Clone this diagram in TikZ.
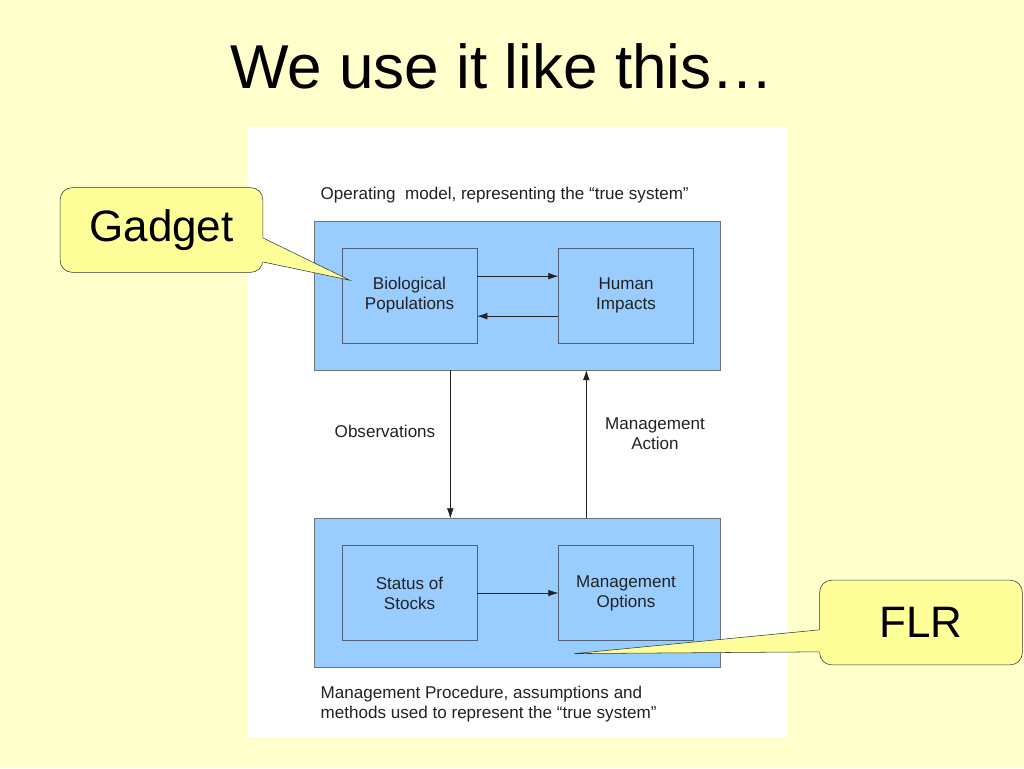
\documentclass[tikz,border=0pt]{standalone}
\usepackage{fontspec}
\setmainfont{Liberation Sans}
\usetikzlibrary{positioning,arrows.meta}
\definecolor{slidebg}{HTML}{FFFFCC}
\definecolor{boxblue}{HTML}{99CCFF}
\definecolor{outerline}{HTML}{707478}
\definecolor{innerline}{HTML}{4F6278}
\definecolor{diagtext}{HTML}{222222}
\definecolor{calloutfill}{HTML}{FFFF99}

\begin{document}
\begin{tikzpicture}[x=0.75pt,y=-0.75pt,
outerbox/.style={rectangle, draw=outerline, fill=boxblue, minimum width=304.5pt, minimum height=111.5pt},
innerbox/.style={rectangle, draw=innerline, fill=boxblue, minimum width=101.25pt, minimum height=71pt,
align=center, text=diagtext, font=\fontsize{12.8}{15}\selectfont},
caption/.style={inner sep=0pt, align=left, text=diagtext, font=\fontsize{12.8}{15}\selectfont},
flowlabel/.style={align=center, text=diagtext, font=\fontsize{12.8}{15}\selectfont},
flow/.style={draw=diagtext, -{Latex[length=7.5pt,width=5pt]}},
bubble/.style={rectangle, rounded corners=9pt, draw=black!80, fill=calloutfill,
minimum width=152pt, minimum height=63.5pt, font=\fontsize{33}{36}\selectfont},
pointer/.style={draw=black!80, line join=miter}
]
%Background
\fill[slidebg] (0,0) rectangle (1024,768);
\useasboundingbox (0,0) rectangle (1024,768);
\fill[white] (248,127) rectangle (787,737);
\node[anchor=base, font=\fontsize{46.5}{50}\selectfont] (title) at (502,88) {We use it like this…};

%Nodes
\node[outerbox]  (topbox)  at (517,295.5) {};
\node[innerbox]  (bio)     [right=21pt of topbox.west] {Biological\\Populations};
\node[innerbox]  (human)   [right=60.75pt of bio] {Human\\Impacts};
\node[outerbox]  (botbox)  at (517,593) {};
\node[innerbox]  (status)  [right=21pt of botbox.west] {Status of\\Stocks};
\node[innerbox]  (options) [right=60.75pt of status] {Management\\Options};

\node[caption, anchor=south west] (optitle) at ([shift={(5pt,13pt)}]topbox.north west)
  {Operating\ \ model, representing the “true system”};
\node[caption, anchor=north west] (mptitle) at ([shift={(5pt,-14pt)}]botbox.south west)
  {Management Procedure, assumptions and\\methods used to represent the “true system”};

\node[flowlabel] (obs) at ([shift={(-99pt,-46pt)}]topbox.south) {Observations};
\node[flowlabel] (action) at ([shift={(103.5pt,-48pt)}]topbox.south) {Management\\Action};

%Lines
\draw[flow] ([yshift=14.5pt]bio.east) -- ([yshift=14.5pt]human.west);
\draw[flow] ([yshift=-15.5pt]human.west) -- ([yshift=-15.5pt]bio.east);
\draw[flow] (status) -- (options);
\draw[flow] ([xshift=-50pt]topbox.south) -- ([xshift=-50pt]botbox.north);
\draw[flow] ([xshift=52pt]botbox.north) -- ([xshift=52pt]topbox.south);

%Callouts
\node[bubble] (gadget) at (161.5,230) {Gadget};
\coordinate (gadgettip) at ([shift={(6pt,11.5pt)}]bio.west);
\fill[calloutfill] ([shift={(-1pt,-6pt)}]gadget.east) -- (gadgettip) -- ([shift={(-1pt,-24pt)}]gadget.east) -- cycle;
\draw[pointer] ([yshift=-6pt]gadget.east) -- (gadgettip) -- ([yshift=-24pt]gadget.east);

\node[bubble] (flr) at (921,622.5) {FLR};
\coordinate (flrtip) at ([shift={(43pt,10.5pt)}]botbox.south);
\fill[calloutfill] ([shift={(1pt,-5.5pt)}]flr.west) -- (flrtip) -- ([shift={(1pt,-22pt)}]flr.west) -- cycle;
\draw[pointer] ([yshift=-5.5pt]flr.west) -- (flrtip) -- ([yshift=-22pt]flr.west);
\end{tikzpicture}
\end{document}
